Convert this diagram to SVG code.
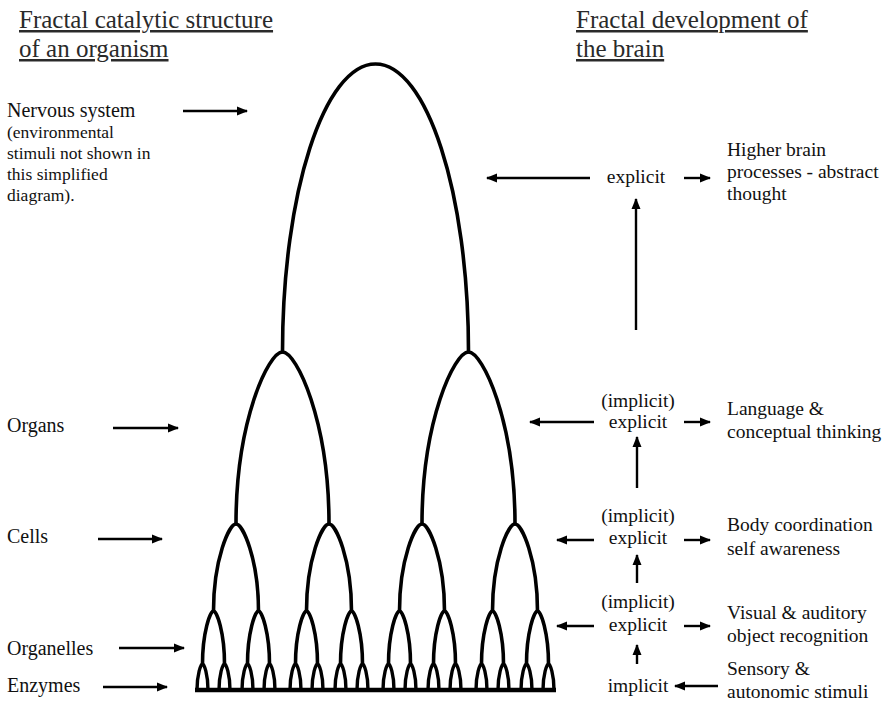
<svg xmlns="http://www.w3.org/2000/svg" width="896" height="702" viewBox="0 0 896 702">
<style>
  text { font-family: "Liberation Serif", "Times New Roman", serif; fill: #111; }
  .title { font-size: 25px; text-decoration: underline; fill: #2a2a2a; }
  .lbl { font-size: 20px; }
  .sub { font-size: 17.5px; }
  .rt { font-size: 19.5px; }
  .mid { font-size: 19.5px; text-anchor: middle; }
  .arch { fill: none; stroke: #000; stroke-width: 3.6; stroke-linecap: round; }
  .arch5 { fill: none; stroke: #000; stroke-width: 3.4; }
  .arr { fill: none; stroke: #000; stroke-width: 2.4; marker-end: url(#ah); }
</style>
<defs>
  <marker id="ah" markerUnits="userSpaceOnUse" markerWidth="13" markerHeight="10" refX="10" refY="5" orient="auto">
    <path d="M0,0.5 L11,5 L0,9.5 Z" fill="#000"/>
  </marker>
</defs>
<rect width="896" height="702" fill="#fff"/>

<g id="title-left">
  <text class="title" x="19" y="28">Fractal catalytic structure</text>
  <text class="title" x="19" y="57">of an organism</text>
</g>
<g id="title-right">
  <text class="title" x="576" y="28">Fractal development of</text>
  <text class="title" x="576" y="57">the brain</text>
</g>

<g id="label-nervous">
  <text class="lbl" x="7" y="117">Nervous system</text>
  <text class="sub" x="7" y="138">(environmental</text>
  <text class="sub" x="7" y="159">stimuli not shown in</text>
  <text class="sub" x="7" y="180">this simplified</text>
  <text class="sub" x="7" y="201">diagram).</text>
</g>
<g id="label-organs"><text class="lbl" x="7" y="432">Organs</text></g>
<g id="label-cells"><text class="lbl" x="7" y="543">Cells</text></g>
<g id="label-organelles"><text class="lbl" x="7" y="655">Organelles</text></g>
<g id="label-enzymes"><text class="lbl" x="7" y="692">Enzymes</text></g>

<g id="fractal">
  <path class="arch" d="M282.5,352 C282.5,193 324.2,64 375.5,64 C426.8,64 468.5,193 468.5,352"/>
  <path class="arch" d="M236,524 C236,420.8 268.5,352 282.5,352 C296.5,352 329,420.8 329,524 M422,524 C422,420.8 454.5,352 468.5,352 C482.5,352 515,420.8 515,524"/>
  <path class="arch" d="M213.5,611 C213.5,558.8 229.25,524 236,524 C242.75,524 258.5,558.8 258.5,611 M306.5,611 C306.5,558.8 322.25,524 329,524 C335.75,524 351.5,558.8 351.5,611 M399.5,611 C399.5,558.8 415.25,524 422,524 C428.75,524 444.5,558.8 444.5,611 M492.5,611 C492.5,558.8 508.25,524 515,524 C521.75,524 537.5,558.8 537.5,611"/>
  <path class="arch" d="M202.5,664 C202.5,632.2 210.2,611 213.5,611 C216.8,611 224.5,632.2 224.5,664 M247.5,664 C247.5,632.2 255.2,611 258.5,611 C261.8,611 269.5,632.2 269.5,664 M295.5,664 C295.5,632.2 303.2,611 306.5,611 C309.8,611 317.5,632.2 317.5,664 M340.5,664 C340.5,632.2 348.2,611 351.5,611 C354.8,611 362.5,632.2 362.5,664 M388.5,664 C388.5,632.2 396.2,611 399.5,611 C402.8,611 410.5,632.2 410.5,664 M433.5,664 C433.5,632.2 441.2,611 444.5,611 C447.8,611 455.5,632.2 455.5,664 M481.5,664 C481.5,632.2 489.2,611 492.5,611 C495.8,611 503.5,632.2 503.5,664 M526.5,664 C526.5,632.2 534.2,611 537.5,611 C540.8,611 548.5,632.2 548.5,664"/>
  <path class="arch5" d="M197,690 C197,674.4 200.85,664 202.5,664 C204.15,664 208,674.4 208,690 M219,690 C219,674.4 222.85,664 224.5,664 C226.15,664 230,674.4 230,690 M242,690 C242,674.4 245.85,664 247.5,664 C249.15,664 253,674.4 253,690 M264,690 C264,674.4 267.85,664 269.5,664 C271.15,664 275,674.4 275,690 M290,690 C290,674.4 293.85,664 295.5,664 C297.15,664 301,674.4 301,690 M312,690 C312,674.4 315.85,664 317.5,664 C319.15,664 323,674.4 323,690 M335,690 C335,674.4 338.85,664 340.5,664 C342.15,664 346,674.4 346,690 M357,690 C357,674.4 360.85,664 362.5,664 C364.15,664 368,674.4 368,690 M383,690 C383,674.4 386.85,664 388.5,664 C390.15,664 394,674.4 394,690 M405,690 C405,674.4 408.85,664 410.5,664 C412.15,664 416,674.4 416,690 M428,690 C428,674.4 431.85,664 433.5,664 C435.15,664 439,674.4 439,690 M450,690 C450,674.4 453.85,664 455.5,664 C457.15,664 461,674.4 461,690 M476,690 C476,674.4 479.85,664 481.5,664 C483.15,664 487,674.4 487,690 M498,690 C498,674.4 501.85,664 503.5,664 C505.15,664 509,674.4 509,690 M521,690 C521,674.4 524.85,664 526.5,664 C528.15,664 532,674.4 532,690 M543,690 C543,674.4 546.85,664 548.5,664 C550.15,664 554,674.4 554,690"/>
  <line x1="195" y1="690" x2="556" y2="690" stroke="#000" stroke-width="4.5"/>
</g>

<g id="node-explicit-top"><text class="mid" x="636" y="183">explicit</text></g>
<g id="node-higher">
  <text class="rt" x="727" y="156">Higher brain</text>
  <text class="rt" x="727" y="178">processes - abstract</text>
  <text class="rt" x="727" y="200">thought</text>
</g>
<g id="node-lang-level">
  <text class="mid" x="638" y="407">(implicit)</text>
  <text class="mid" x="638" y="428">explicit</text>
</g>
<g id="node-language">
  <text class="rt" x="727" y="415">Language &amp;</text>
  <text class="rt" x="727" y="438">conceptual thinking</text>
</g>
<g id="node-body-level">
  <text class="mid" x="638" y="522">(implicit)</text>
  <text class="mid" x="638" y="544">explicit</text>
</g>
<g id="node-body">
  <text class="rt" x="727" y="531">Body coordination</text>
  <text class="rt" x="727" y="555">self awareness</text>
</g>
<g id="node-visual-level">
  <text class="mid" x="638" y="608">(implicit)</text>
  <text class="mid" x="638" y="631">explicit</text>
</g>
<g id="node-visual">
  <text class="rt" x="727" y="619">Visual &amp; auditory</text>
  <text class="rt" x="727" y="642">object recognition</text>
</g>
<g id="node-implicit"><text class="mid" x="638" y="692">implicit</text></g>
<g id="node-sensory">
  <text class="rt" x="727" y="675">Sensory &amp;</text>
  <text class="rt" x="727" y="698">autonomic stimuli</text>
</g>

<g id="connectors">
  <line class="arr" x1="183" y1="111" x2="247" y2="111"/>
  <line class="arr" x1="113" y1="428" x2="178" y2="428"/>
  <line class="arr" x1="98" y1="539" x2="162" y2="539"/>
  <line class="arr" x1="119" y1="648" x2="184" y2="648"/>
  <line class="arr" x1="103" y1="687" x2="167" y2="687"/>

  <line class="arr" x1="590" y1="178" x2="487" y2="178"/>
  <line class="arr" x1="684" y1="178" x2="710" y2="178"/>
  <line class="arr" x1="636" y1="330" x2="636" y2="199"/>

  <line class="arr" x1="594" y1="422" x2="530" y2="422"/>
  <line class="arr" x1="684" y1="422" x2="710" y2="422"/>
  <line class="arr" x1="637" y1="488" x2="637" y2="437"/>

  <line class="arr" x1="594" y1="540" x2="557" y2="540"/>
  <line class="arr" x1="684" y1="540" x2="710" y2="540"/>
  <line class="arr" x1="637" y1="583" x2="637" y2="555"/>

  <line class="arr" x1="594" y1="626" x2="557" y2="626"/>
  <line class="arr" x1="684" y1="626" x2="710" y2="626"/>
  <line class="arr" x1="637" y1="664" x2="637" y2="645"/>

  <line class="arr" x1="718" y1="686" x2="675" y2="686"/>
</g>
</svg>
